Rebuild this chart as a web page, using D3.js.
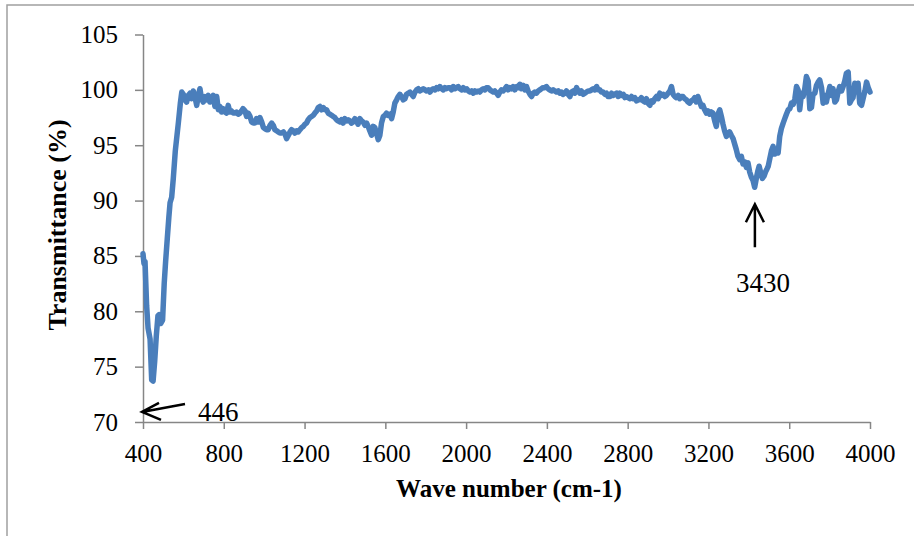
<!DOCTYPE html>
<html>
<head>
<meta charset="utf-8">
<script src="https://cdn.jsdelivr.net/npm/d3@7"></script>
<style>
  html, body { margin: 0; padding: 0; background: #fff; }
  svg { display: block; }
  text { font-family: "Liberation Serif", "Times New Roman", serif; fill: #000; }
</style>
</head>
<body>
<svg id="chart" width="914" height="536"></svg>
<script>
// ---- data ----
const wavenumber = [400,405,410,418,425,435,443,450,458,466,474,480,488,497,505,512,520,528,534,542,550,560,575,585,592,600,608,616,624,633,641,649,658,666,674,682,690,698,707,715,723,731,740,748,756,765,773,781,789,797,805,814,822,830,838,847,855,863,872,880,888,895,905,913,921,930,938,946,954,962,971,979,988,996,1004,1012,1020,1029,1037,1045,1053,1062,1070,1078,1087,1095,1103,1111,1120,1128,1136,1144,1152,1161,1169,1177,1186,1194,1202,1210,1218,1227,1235,1243,1251,1260,1268,1276,1284,1293,1301,1309,1317,1325,1334,1342,1350,1358,1366,1375,1383,1391,1399,1408,1416,1424,1432,1441,1449,1457,1465,1474,1482,1490,1499,1507,1515,1523,1532,1540,1548,1557,1565,1573,1581,1590,1598,1606,1614,1623,1631,1639,1647,1656,1664,1672,1680,1689,1697,1705,1714,1722,1730,1738,1747,1755,1763,1771,1780,1788,1796,1804,1813,1821,1829,1837,1846,1854,1862,1870,1879,1887,1895,1903,1912,1920,1928,1936,1945,1953,1961,1969,1978,1986,1994,2003,2011,2019,2027,2036,2044,2052,2060,2068,2077,2085,2093,2101,2109,2118,2126,2134,2142,2151,2159,2167,2175,2184,2192,2200,2208,2217,2225,2233,2241,2250,2258,2266,2274,2283,2291,2299,2307,2316,2324,2332,2340,2348,2357,2365,2373,2381,2390,2398,2406,2414,2423,2431,2439,2447,2456,2464,2472,2480,2489,2497,2505,2514,2522,2530,2538,2547,2555,2563,2571,2580,2588,2596,2604,2613,2621,2629,2637,2646,2654,2662,2670,2678,2687,2695,2703,2712,2720,2728,2736,2745,2753,2761,2769,2778,2786,2794,2802,2811,2819,2827,2835,2844,2852,2860,2868,2877,2885,2893,2901,2910,2918,2926,2934,2943,2951,2959,2967,2976,2984,2992,3000,3009,3017,3025,3033,3041,3050,3058,3066,3074,3082,3091,3099,3107,3115,3124,3132,3140,3148,3157,3165,3173,3181,3190,3198,3206,3214,3222,3231,3239,3247,3256,3264,3272,3280,3289,3297,3305,3313,3322,3330,3338,3346,3355,3363,3371,3379,3388,3396,3404,3413,3421,3429,3437,3445,3451,3459,3467,3475,3483,3491,3496,3504,3512,3520,3528,3537,3545,3553,3561,3570,3578,3586,3595,3603,3611,3620,3628,3636,3644,3652,3661,3669,3677,3685,3694,3702,3710,3718,3727,3735,3743,3751,3760,3768,3776,3784,3792,3801,3809,3817,3826,3834,3842,3850,3859,3867,3875,3883,3892,3900,3908,3916,3925,3933,3941,3949,3958,3966,3975,3983,3991,4000];
const transmittance = [85.2,84.3,84.5,80.5,78.5,77.5,73.8,73.7,75.5,77.8,79.6,79.7,78.9,79.2,82.5,84.5,86.5,88.5,89.8,90.3,92.0,94.5,97.0,98.8,99.8,99.6,99.1,98.9,99.5,99.7,99.2,99.9,99.3,98.6,99.5,100.1,99.2,98.9,99.4,99.1,99.5,98.9,99.0,99.5,98.5,99.4,98.2,98.5,98.0,98.3,98.0,97.9,98.6,98.0,98.1,97.9,97.9,98.0,97.8,97.9,98.1,98.3,98.1,97.6,97.9,97.6,97.1,97.0,97.0,97.4,97.1,97.5,97.1,96.6,96.5,96.4,96.4,96.8,97.0,96.8,96.4,96.3,96.2,96.1,96.1,96.2,96.0,95.6,95.9,96.2,96.4,96.3,96.1,96.3,96.2,96.4,96.6,96.7,96.9,97.0,97.3,97.5,97.6,97.7,97.9,98.1,98.4,98.5,98.2,98.4,98.2,98.2,97.9,97.8,97.7,97.6,97.5,97.3,97.2,97.1,97.3,97.0,97.4,97.2,97.3,97.2,97.0,97.1,97.4,97.2,96.9,97.4,97.2,97.1,96.8,97.0,96.7,96.3,95.9,96.7,96.6,96.0,95.5,95.9,97.0,97.6,97.7,97.9,97.7,97.8,97.4,98.0,98.8,99.1,99.4,99.6,99.4,99.1,99.2,99.6,99.7,99.8,99.6,99.4,99.8,100.0,100.1,99.9,100.0,100.1,100.0,99.9,100.0,99.8,100.0,100.1,100.0,100.2,100.1,100.3,100.1,100.0,100.2,100.1,100.2,100.2,100.0,100.3,100.1,100.2,100.3,100.1,100.0,100.2,100.0,100.1,99.9,99.8,99.9,99.7,99.9,99.8,99.9,99.8,100.0,100.1,100.0,100.2,100.2,100.0,99.9,99.8,99.9,99.7,99.5,99.8,100.0,99.9,100.1,100.3,100.0,100.2,100.1,100.3,100.0,100.3,100.2,100.5,100.1,100.4,100.0,100.3,99.9,99.6,99.4,99.7,99.8,99.7,99.9,100.0,100.1,100.2,100.2,100.3,100.1,100.0,99.9,100.0,99.9,99.8,99.9,99.7,99.8,99.6,99.7,99.9,99.6,99.4,99.8,99.9,99.7,100.2,99.9,99.7,99.9,99.6,99.7,99.8,99.9,99.9,100.0,100.1,100.0,100.3,100.0,100.0,99.8,99.8,99.6,99.7,99.4,99.4,99.7,99.5,99.6,99.7,99.4,99.7,99.5,99.6,99.3,99.4,99.3,99.2,99.4,99.2,99.3,99.0,99.1,99.1,99.3,99.0,98.9,99.2,98.8,98.6,99.0,98.9,99.2,99.4,99.2,99.7,99.5,99.6,99.4,99.5,99.7,99.9,100.3,99.6,99.4,99.3,99.5,99.2,99.4,99.4,99.2,99.1,98.9,98.8,99.0,99.1,99.3,98.9,99.4,98.9,98.5,98.6,98.2,97.9,98.1,97.8,98.0,97.9,97.2,96.7,97.8,98.2,97.6,96.9,96.3,95.8,96.0,96.2,95.9,95.6,95.1,94.6,94.0,93.7,94.0,93.3,93.5,93.0,93.4,92.6,92.1,91.8,91.2,92.0,92.7,93.1,92.5,92.0,92.2,92.6,92.9,93.1,93.8,94.5,94.9,94.2,94.5,94.3,95.8,96.5,97.0,97.4,97.8,98.2,98.3,98.8,98.7,99.2,100.3,100.0,98.2,99.7,99.4,100.1,101.2,100.8,98.3,98.4,99.6,99.7,100.4,100.7,100.9,100.2,98.8,99.5,98.9,99.6,100.3,99.5,100.1,98.9,99.1,99.8,100.3,99.9,100.3,100.8,101.5,101.6,98.8,99.1,99.3,100.6,99.9,100.6,98.8,98.6,99.2,99.9,100.7,100.2,99.8];
const xTicks = [400,800,1200,1600,2000,2400,2800,3200,3600,4000];
const yTicks = [70,75,80,85,90,95,100,105];
const xTitle = "Wave number (cm-1)";
const yTitle = "Transmittance (%)";
const annotations = [
  {label: "446", wn: 400, t: 71, dir: "left"},
  {label: "3430", wn: 3430, t: 91.2, dir: "up"}
];

// ---- drawing ----
const serif = '"Liberation Serif", "Times New Roman", serif';
const svg = d3.select("#chart");
const x = d3.scaleLinear().domain([400, 4000]).range([143, 870]);
const y = d3.scaleLinear().domain([70, 105]).range([422, 34.5]);

// outer frame (top + left)
svg.append("path")
  .attr("d", "M7,536V5H914")
  .attr("fill", "none").attr("stroke", "#a0a0a0").attr("stroke-width", 1.5);

const axisColor = "#868686";

const gx = svg.append("g").attr("transform", `translate(0,${y(70)})`)
  .call(d3.axisBottom(x).tickValues(xTicks).tickFormat(d3.format("d"))
        .tickSize(7).tickSizeOuter(0).tickPadding(15));
const gy = svg.append("g").attr("transform", `translate(${x(400)},0)`)
  .call(d3.axisLeft(y).tickValues(yTicks).tickFormat(d3.format("d"))
        .tickSize(8).tickSizeOuter(0).tickPadding(17));

[gx, gy].forEach(g => {
  g.select(".domain").attr("stroke", axisColor).attr("stroke-width", 1.5);
  g.selectAll(".tick line").attr("stroke", axisColor).attr("stroke-width", 1.5);
  g.selectAll(".tick text")
    .style("font-family", serif)
    .style("font-size", "25px").attr("fill", "#000");
});

// series line
const pts = wavenumber.map((w, i) => [w, transmittance[i]]);
svg.append("path")
  .datum(pts)
  .attr("fill", "none")
  .attr("stroke", "#4a7ebb")
  .attr("stroke-width", 5.5)
  .attr("stroke-linejoin", "round")
  .attr("stroke-linecap", "round")
  .attr("d", d3.line().x(d => x(d[0])).y(d => y(d[1])));

// axis titles
svg.append("text")
  .attr("x", 509).attr("y", 497)
  .attr("text-anchor", "middle")
  .style("font-family", serif)
  .style("font-size", "25px").style("font-weight", "bold")
  .text(xTitle);
svg.append("text")
  .attr("transform", `translate(66,225) rotate(-90)`)
  .attr("text-anchor", "middle")
  .style("font-family", serif)
  .style("font-size", "26px").style("font-weight", "bold")
  .text(yTitle);

// annotations
const a1 = annotations[0];
const tip1x = x(a1.wn) - 1, tip1y = y(a1.t) + 1;
svg.append("path")
  .attr("d", `M${tip1x + 43},${tip1y - 8}L${tip1x},${tip1y}M${tip1x + 17},${tip1y - 9}L${tip1x},${tip1y}L${tip1x + 19},${tip1y + 8}`)
  .attr("fill", "none").attr("stroke", "#000").attr("stroke-width", 2.5)
  .attr("stroke-linejoin", "miter");
svg.append("text")
  .attr("x", 198).attr("y", 421)
  .style("font-family", serif)
  .style("font-size", "27px")
  .text(a1.label);

const a2 = annotations[1];
const tip2x = x(a2.wn), tip2y = y(a2.t) + 17;
svg.append("path")
  .attr("d", `M${tip2x},${tip2y + 43}L${tip2x},${tip2y}M${tip2x - 9},${tip2y + 18}L${tip2x},${tip2y}L${tip2x + 9},${tip2y + 18}`)
  .attr("fill", "none").attr("stroke", "#000").attr("stroke-width", 2.5);
svg.append("text")
  .attr("x", tip2x + 8).attr("y", 292)
  .attr("text-anchor", "middle")
  .style("font-family", serif)
  .style("font-size", "27px")
  .text(a2.label);
</script>
</body>
</html>
